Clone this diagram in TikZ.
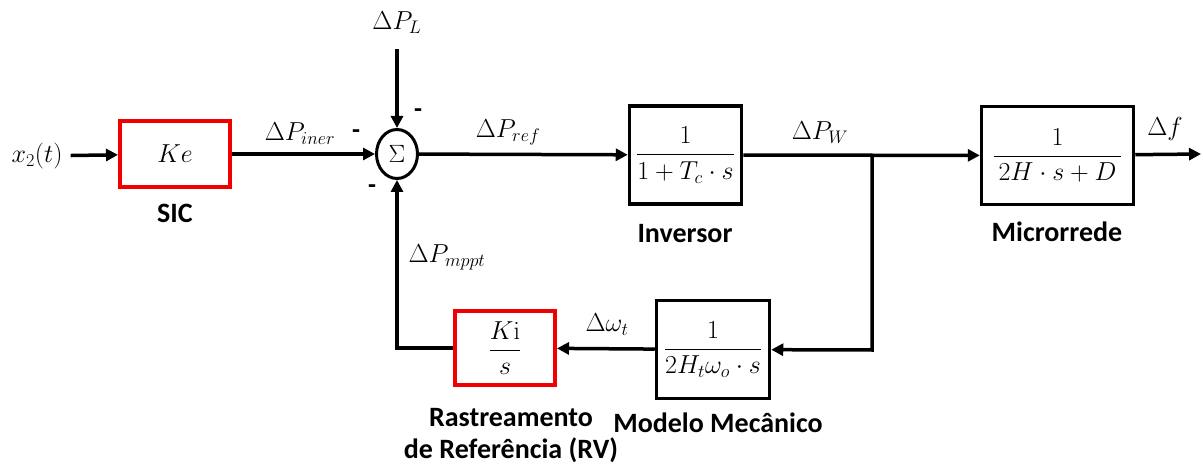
\documentclass[tikz,border=0pt]{standalone}
\usepackage{fix-cm}
\usepackage{amsmath}
\usepackage[no-math]{fontspec}
\setmainfont{Carlito}
\usetikzlibrary{arrows.meta,shapes.geometric}
\definecolor{boxred}{RGB}{240,0,0}
\tikzset{
  blk/.style={draw=black,line width=3.5pt,inner sep=0pt,font=\fontsize{26}{30}\selectfont},
  redblk/.style={blk,draw=boxred,line width=4pt},
  sumnode/.style={draw=black,line width=3pt,ellipse,inner sep=0pt,minimum width=41pt,minimum height=49pt,font=\fontsize{25}{28}\selectfont},
  lbl/.style={inner sep=0pt,font=\fontsize{26}{28}\selectfont},
  captxt/.style={inner sep=0pt,font=\fontsize{28}{32}\selectfont\bfseries,align=center},
  sgn/.style={inner sep=0pt,font=\fontsize{26}{28}\selectfont\bfseries},
  arr/.style={line width=3.5pt,-{Triangle[length=12pt,width=12pt]}}
}
\begin{document}
\begin{tikzpicture}[x=1pt,y=-1pt]
\useasboundingbox (0,0) rectangle (1203,468);
% nodes
\node[lbl] (x2) at (37,156) {$x_2(t)$};
\node[redblk,minimum width=110pt,minimum height=66pt] (ke) at (175,154) {$Ke$};
\node[captxt] (sic) at (175,213.5) {SIC};
\node[sumnode] (sum) at (397,154) {$\Sigma$};
\node[lbl] (pl) at (397,23) {$\Delta P_L$};
\coordinate (plt) at (397,49);
\node[blk,minimum width=112pt,minimum height=98pt] (inv) at (685.5,155) {$\dfrac{1}{1+T_c\cdot s}$};
\node[captxt] (invl) at (685,234) {Inversor};
\node[blk,minimum width=152pt,minimum height=98pt] (mic) at (1057.5,155.5) {$\dfrac{1}{\,2H\cdot s+D\,}$};
\node[captxt] (micl) at (1057,232) {Microrrede};
\coordinate (out) at (1201,154);
\coordinate (j) at (872,154);
\coordinate (c1) at (872,350);
\node[blk,minimum width=113pt,minimum height=98pt] (mod) at (713,349.5) {$\dfrac{1}{2H_t\omega_o\cdot s}$};
\node[captxt] (modl) at (718,423) {Modelo Mecânico};
\node[redblk,minimum width=100pt,minimum height=74pt] (ki) at (505,348) {$\dfrac{K\mathrm{i}}{s}$};
\node[captxt] (kil) at (511,436) {Rastreamento\\de Referência (RV)};
\coordinate (c2) at (397,348);
% labels
\node[lbl] (lpiner) at (300,134) {$\Delta P_{iner}$};
\node[lbl] (lpref) at (508,132) {$\Delta P_{ref}$};
\node[lbl] (lpw) at (820,133) {$\Delta P_W$};
\node[lbl] (lf) at (1165,129) {$\Delta f$};
\node[lbl] (lpm) at (447,257) {$\Delta P_{mppt}$};
\node[lbl] (lw) at (607,325) {$\Delta\omega_t$};
\node[sgn] (s1) at (356,134) {-};
\node[sgn] (s2) at (418,113) {-};
\node[sgn] (s3) at (372,189) {-};
% connectors
\draw[arr,shorten <=8pt] (x2) -- (ke);
\draw[arr] (ke) -- (sum);
\draw[arr] (plt) -- (sum);
\draw[arr] (sum) -- (inv);
\draw[arr] (inv) -- (mic);
\draw[arr] (mic) -- (out);
\draw[arr] (j) -- (c1) -- (mod);
\draw[arr] (mod) -- (ki);
\draw[arr] (ki) -- (c2) -- (sum);
\end{tikzpicture}
\end{document}
